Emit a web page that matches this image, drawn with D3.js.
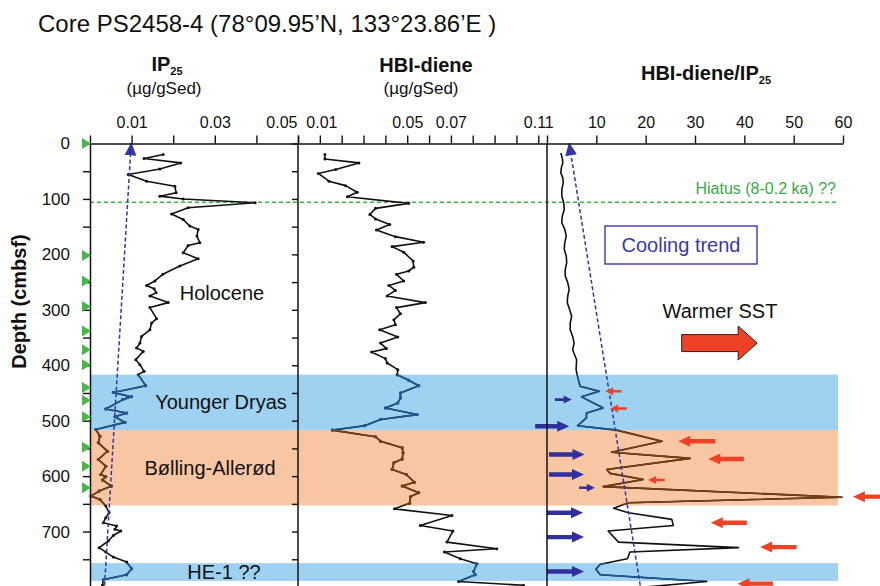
<!DOCTYPE html>
<html>
<head>
<meta charset="utf-8">
<script src="https://cdn.jsdelivr.net/npm/d3@7"></script>
<style>
  body { margin: 0; background: #fff; }
  text { font-family: "Liberation Sans", Arial, sans-serif; }
</style>
</head>
<body>
<div id="graph"></div>
<script>
// IP25 (ug/gSed) vs depth (cmbsf)
const ipDepth = [20, 27, 35, 46, 56, 68, 77, 89, 95, 100, 107, 116, 127, 137, 149, 155, 167, 179, 184, 197,
  208, 221, 236, 248, 256, 262, 269, 275, 287, 296, 316, 324, 336, 348, 360, 369, 375, 390, 399, 411,
  417, 437, 449, 457, 462, 479, 486, 493, 503, 516, 528, 540, 555, 570, 582, 597, 601, 607, 618, 627,
  636, 642, 654, 666, 675, 684, 690, 696, 699, 707, 717, 729, 737, 746, 755, 767, 778, 787, 797];
const ipValue = [.0176, .0130, .0218, .0168, .0092, .0136, .0204, .0207, .0168, .0224, .0397, .0236, .0196, .0224, .0240, .0260, .0257, .0264, .0236, .0224,
  .0260, .0216, .0175, .0156, .0136, .0154, .0159, .0144, .0188, .0144, .0160, .0148, .0144, .0124, .0120, .0112, .0128, .0110, .0120, .0130,
  .0116, .0134, .0056, .0100, .0079, .0038, .0088, .0060, .0084, .0014, .0024, .0020, .0042, .0020, .0038, .0026, .0038, .0030, .0052, .0022,
  .0002, .0024, .0038, .0046, .0038, .0032, .0064, .0060, .0074, .0056, .0044, .0022, .0038, .0056, .0088, .0100, .0088, .0032, .0030];

// HBI-diene (ug/gSed) vs depth
const dieneDepth = [20, 28, 35, 47, 54, 68, 76, 88, 96, 108, 117, 128, 136, 146, 156, 168, 178, 186, 196, 212,
  223, 230, 236, 248, 256, 265, 275, 287, 296, 307, 318, 327, 336, 349, 360, 370, 376, 388, 396, 408,
  417, 427, 437, 450, 459, 468, 477, 489, 498, 509, 517, 529, 537, 549, 558, 569, 576, 588, 597, 611,
  618, 630, 637, 649, 659, 671, 689, 699, 719, 731, 737, 749, 758, 772, 778, 790, 797];
const dieneValue = [.0123, .0123, .0279, .0172, .0093, .0142, .0218, .0271, .0226, .0507, .0355, .0329, .0355, .0420, .0359, .0446, .0575, .0431, .0484, .0527,
  .0530, .0507, .0451, .0484, .0416, .0446, .0408, .0583, .0451, .0469, .0439, .0446, .0374, .0457, .0378, .0405, .0337, .0400, .0408, .0457,
  .0454, .0507, .0553, .0469, .0469, .0457, .0400, .0545, .0378, .0305, .0157, .0355, .0378, .0477, .0481, .0477, .0439, .0431, .0496, .0533,
  .0477, .0553, .0515, .0511, .0442, .0705, .0560, .0709, .0682, .0910, .0670, .0743, .0819, .0804, .0811, .0735, .1032];

// HBI-diene/IP25 ratio vs depth
const ratioDepth = [17, 26, 35, 44, 53, 62, 71, 83, 95, 107, 119, 131, 143, 155, 167, 179, 191, 203, 215, 227,
  239, 251, 263, 275, 287, 300, 312, 324, 336, 348, 360, 372, 390, 408, 417, 438, 447, 457, 477, 486,
  495, 509, 517, 537, 557, 568, 588, 595, 606, 619, 638, 648, 658, 666, 678, 689, 699, 719, 729, 737,
  749, 759, 768, 778, 790, 800];
const ratioValue = [2.8, 3.1, 3.2, 2.9, 2.8, 3.2, 3.3, 3.0, 3.0, 3.4, 3.5, 3.1, 3.0, 3.6, 3.9, 3.6, 3.5, 3.9, 4.0, 3.7,
  3.7, 4.2, 4.5, 4.2, 4.1, 4.6, 5.0, 4.7, 4.7, 5.2, 5.5, 5.2, 6.0, 5.9, 6.1, 6.7, 10.6, 7.0, 11.4, 8.0,
  8.0, 6.2, 14.1, 23.3, 13.1, 29.0, 12.1, 12.8, 19.5, 11.4, 59.8, 16.5, 13.5, 16.5, 25.3, 25.6, 12.4, 14.5, 38.8, 16.8,
  16.3, 10.8, 9.9, 10.8, 32.4, 20.0];

// climate intervals (depth, cmbsf)
const bandNames = ["Younger Dryas", "Bølling-Allerød", "HE-1 ??"];
const bandTop = [417, 517, 757];
const bandBottom = [517, 653, 789];
const hiatusDepth = 106;

// AMS 14C dates (green triangles)
const dateDepths = [0, 202, 248, 294, 338, 372, 399, 440, 463, 493, 548, 582, 621];

// cooling trend lines (bottom -> top)
const ipTrendDepth = [797, 0];
const ipTrendValue = [0.0035, 0.0099];
const ratioTrendDepth = [797, 0];
const ratioTrendValue = [18.9, 4.5];

// arrows in ratio panel (ratio units)
const blueArrowDepth = [462, 510, 561, 597, 621, 666, 710, 772];
const blueArrowFrom = [1.6, -2.4, 0.4, 0.4, 6.5, 0, 0, 0];
const blueArrowTo = [5.0, 4.5, 7.6, 7.5, 9.7, 7.3, 7.5, 7.5];
const blueArrowKind = ["s", "b", "b", "b", "s", "b", "b", "b"];
const redArrowDepth = [447, 478, 537, 569, 607, 637, 684, 728, 794];
const redArrowFrom = [15.1, 16.2, 34.1, 39.9, 23.9, 69.5, 40.5, 50.6, 45.8];
const redArrowTo = [11.8, 12.8, 26.6, 32.7, 20.5, 62, 33.2, 43.2, 38.6];
const redArrowKind = ["s", "s", "b", "b", "s", "b", "b", "b", "b"];

// axis ticks
const ipTicks = [0, 0.01, 0.02, 0.03, 0.04, 0.05];
const ipTickLabels = ["0.01", "0.03", "0.05"];
const dieneTicks = d3.range(0, 12).map(i => i / 100);
const dieneTickLabels = ["0.01", "0.05", "0.07", "0.11"];
const ratioTicks = [0, 10, 20, 30, 40, 50, 60];
const ratioTickLabels = ["10", "20", "30", "40", "50", "60"];
const depthTicks = d3.range(0, 751, 50);

const width = 880;
const height = 586;

const svg = d3.select("#graph")
  .append("svg")
  .attr("width", width)
  .attr("height", height)
  .attr("viewBox", [0, 0, width, height]);

const y = d3.scaleLinear().domain([0, 800]).range([143.5, 587]);
const x1 = d3.scaleLinear().domain([0, 0.05]).range([90, 298]);
const x2 = d3.scaleLinear().domain([0, 0.114]).range([298, 547]);
const x3 = d3.scaleLinear().domain([0, 60]).range([547, 843]);
const bandRight = 838;

const BLUE_BAND = "#9fd2f0";
const ORANGE_BAND = "#f8c6a2";
const lineColors = ["#1d5b98", "#7a3e12", "#1d5b98"];

const zip = (ds, vs) => ds.map((d, i) => ({ d: d, v: vs[i] }));

// defs: clips for band-coloured lines, arrow marker
const defs = svg.append("defs");
bandTop.forEach((t, i) => {
  defs.append("clipPath").attr("id", "band" + i)
    .append("rect")
    .attr("x", 0).attr("width", width)
    .attr("y", y(t)).attr("height", y(bandBottom[i]) - y(t));
});
defs.append("marker")
  .attr("id", "trendHead")
  .attr("markerUnits", "userSpaceOnUse")
  .attr("viewBox", "0 -6 12 12")
  .attr("refX", 11).attr("refY", 0)
  .attr("markerWidth", 13).attr("markerHeight", 13)
  .attr("orient", "auto")
  .append("path").attr("d", "M0,-5.5L12,0L0,5.5Z").attr("fill", "#3434a6");

// background bands
svg.append("g").selectAll("rect")
  .data(bandTop)
  .join("rect")
  .attr("x", x1(0))
  .attr("width", bandRight - x1(0))
  .attr("y", d => y(d))
  .attr("height", (d, i) => y(bandBottom[i]) - y(d))
  .attr("fill", (d, i) => i === 1 ? ORANGE_BAND : BLUE_BAND);

// hiatus line
svg.append("line")
  .attr("x1", x1(0)).attr("x2", bandRight)
  .attr("y1", y(hiatusDepth)).attr("y2", y(hiatusDepth))
  .attr("stroke", "#3db54a").attr("stroke-width", 1.6)
  .attr("stroke-dasharray", "4,3");
svg.append("text")
  .attr("x", 836).attr("y", y(hiatusDepth) - 8)
  .attr("text-anchor", "end")
  .attr("font-size", "16px")
  .attr("fill", "#3aa846")
  .text("Hiatus (8-0.2 ka) ??");

function drawSeries(data, xs, dots) {
  const line = d3.line().x(p => xs(p.v)).y(p => y(p.d));
  const draw = (g, color) => {
    g.append("path").datum(data)
      .attr("d", line)
      .attr("fill", "none")
      .attr("stroke", color)
      .attr("stroke-width", 1.6)
      .attr("stroke-linejoin", "round");
    if (dots) {
      g.selectAll("circle").data(data).join("circle")
        .attr("cx", p => xs(p.v)).attr("cy", p => y(p.d))
        .attr("r", 1.5).attr("fill", color);
    }
  };
  draw(svg.append("g"), "#111");
  lineColors.forEach((c, i) => draw(svg.append("g").attr("clip-path", `url(#band${i})`), c));
}

drawSeries(zip(ipDepth, ipValue), x1, true);
drawSeries(zip(dieneDepth, dieneValue), x2, true);
drawSeries(zip(ratioDepth, ratioValue), x3, false);

// trend lines
function drawTrend(ds, vs, xs) {
  svg.append("path").datum(zip(ds, vs))
    .attr("d", d3.line().x(p => xs(p.v)).y(p => y(p.d)))
    .attr("fill", "none")
    .attr("stroke", "#3434a6")
    .attr("stroke-width", 1.5)
    .attr("stroke-dasharray", "4,2.5")
    .attr("marker-end", "url(#trendHead)");
}
drawTrend(ipTrendDepth, ipTrendValue, x1);
drawTrend(ratioTrendDepth, ratioTrendValue, x3);

// arrows
function arrowPath(xa, xb, yc, kind) {
  const shaft = kind === "b" ? 2.2 : 1.3;
  const head = kind === "b" ? 5.5 : 4;
  const len = kind === "b" ? 12 : 8;
  const dir = xb > xa ? 1 : -1;
  const xh = xb - dir * len;
  return `M${xa},${yc - shaft}L${xh},${yc - shaft}L${xh},${yc - head}L${xb},${yc}` +
    `L${xh},${yc + head}L${xh},${yc + shaft}L${xa},${yc + shaft}Z`;
}
svg.append("g").selectAll("path")
  .data(blueArrowDepth)
  .join("path")
  .attr("d", (d, i) => arrowPath(x3(blueArrowFrom[i]), x3(blueArrowTo[i]), y(d), blueArrowKind[i]))
  .attr("fill", "#2f2f9e");
svg.append("g").selectAll("path")
  .data(redArrowDepth)
  .join("path")
  .attr("d", (d, i) => arrowPath(x3(redArrowFrom[i]), x3(redArrowTo[i]), y(d), redArrowKind[i]))
  .attr("fill", "#ee4226");

// panel frames
function vline(x, color) {
  svg.append("line")
    .attr("x1", x).attr("x2", x)
    .attr("y1", y(0)).attr("y2", height + 5)
    .attr("stroke", color || "#111").attr("stroke-width", 1.5);
}
vline(x2(0));
vline(x3(0));

// inner ticks at x = 298
svg.append("g")
  .attr("transform", `translate(${x2(0)},0)`)
  .call(d3.axisLeft(y).tickValues(depthTicks).tickSize(6).tickFormat("").tickSizeOuter(0))
  .call(g => g.select(".domain").remove())
  .call(g => g.selectAll("line").attr("stroke", "#111").attr("stroke-width", 1.4));

// depth axis
svg.append("g")
  .attr("transform", `translate(${x1(0)},0)`)
  .call(d3.axisLeft(y).tickValues(depthTicks).tickSize(7).tickPadding(13).tickSizeOuter(0)
    .tickFormat(d => d % 100 === 0 ? d : ""))
  .call(g => g.select(".domain").attr("stroke", "#111").attr("stroke-width", 1.5))
  .call(g => g.selectAll("line").attr("stroke", "#111").attr("stroke-width", 1.4))
  .call(g => g.selectAll("text").attr("font-size", "17px").attr("fill", "#111")
    .attr("font-family", "'Liberation Sans', Arial, sans-serif"));

// top axes
function topAxis(xs, ticks, labels) {
  return svg.append("g")
    .attr("transform", `translate(0,${y(0)})`)
    .call(d3.axisTop(xs).tickValues(ticks).tickSize(8).tickPadding(8).tickSizeOuter(0)
      .tickFormat(d => {
        const s = String(+d.toFixed(2));
        return labels.includes(s) ? s : "";
      }))
    .call(g => g.select(".domain").attr("stroke", "#111").attr("stroke-width", 1.5))
    .call(g => g.selectAll("line").attr("stroke", "#111").attr("stroke-width", 1.4))
    .call(g => g.selectAll("text").attr("font-size", "16px").attr("fill", "#111")
      .attr("font-family", "'Liberation Sans', Arial, sans-serif"));
}
// the two labels at the panel seam sit side by side, as in the source figure
topAxis(x1, ipTicks, ipTickLabels)
  .selectAll(".tick text").filter(d => d === 0.05)
  .attr("text-anchor", "end").attr("dx", "-1px");
topAxis(x2, dieneTicks, dieneTickLabels)
  .selectAll(".tick text").filter(d => d === 0.01)
  .attr("text-anchor", "start").attr("dx", "-14px");
topAxis(x3, ratioTicks, ratioTickLabels);

// green date triangles
svg.append("g").selectAll("path")
  .data(dateDepths)
  .join("path")
  .attr("d", d => `M${x1(0) - 8},${y(d) - 5.5}L${x1(0) + 1},${y(d)}L${x1(0) - 8},${y(d) + 5.5}Z`)
  .attr("fill", "#46b848");

// titles
svg.append("text")
  .attr("x", 38).attr("y", 32)
  .attr("font-size", "24px").attr("fill", "#111")
  .text("Core PS2458-4 (78°09.95’N, 133°23.86’E )");

function header(x, yy, main, sub) {
  const t = svg.append("text")
    .attr("x", x).attr("y", yy)
    .attr("text-anchor", "middle")
    .attr("font-size", "20px").attr("font-weight", "bold").attr("fill", "#111");
  t.append("tspan").text(main);
  if (sub) t.append("tspan").attr("font-size", "11px").attr("dy", 4).text(sub);
}
header(167, 71, "IP", "25");
header(426, 72, "HBI-diene");
header(706, 80, "HBI-diene/IP", "25");

svg.append("g").selectAll("text")
  .data([164, 421])
  .join("text")
  .attr("x", d => d).attr("y", 94)
  .attr("text-anchor", "middle")
  .attr("font-size", "17px").attr("fill", "#111")
  .text("(µg/gSed)");

svg.append("text")
  .attr("transform", `translate(26,${(y(160) + y(410)) / 2}) rotate(-90)`)
  .attr("text-anchor", "middle")
  .attr("font-size", "20px").attr("font-weight", "bold").attr("fill", "#111")
  .text("Depth (cmbsf)");

// interval labels
svg.append("text")
  .attr("x", 222).attr("y", y(270) + 7)
  .attr("text-anchor", "middle").attr("font-size", "20px").attr("fill", "#111")
  .text("Holocene");
svg.append("g").selectAll("text")
  .data(bandNames)
  .join("text")
  .attr("x", (d, i) => [221, 210, 224][i])
  .attr("y", (d, i) => y((bandTop[i] + bandBottom[i]) / 2) + 7)
  .attr("text-anchor", "middle").attr("font-size", "20px").attr("fill", "#111")
  .text(d => d);

// cooling trend box
svg.append("rect")
  .attr("x", 605).attr("y", 226)
  .attr("width", 152).attr("height", 38)
  .attr("fill", "none").attr("stroke", "#3a3aa8").attr("stroke-width", 1.4);
svg.append("text")
  .attr("x", 681).attr("y", 252)
  .attr("text-anchor", "middle").attr("font-size", "20px").attr("fill", "#3a3aa8")
  .text("Cooling trend");

// warmer SST
svg.append("text")
  .attr("x", 720).attr("y", 318)
  .attr("text-anchor", "middle").attr("font-size", "20px").attr("fill", "#111")
  .text("Warmer SST");
const warm = { depth: 360, from: 27.3, to: 42.6 };
const wy = y(warm.depth), wx0 = x3(warm.from), wx1 = x3(warm.to);
svg.append("path")
  .attr("d", `M${wx0},${wy - 8.5}L${wx1 - 19},${wy - 8.5}L${wx1 - 19},${wy - 17}L${wx1},${wy}` +
    `L${wx1 - 19},${wy + 17}L${wx1 - 19},${wy + 8.5}L${wx0},${wy + 8.5}Z`)
  .attr("fill", "#ee4226").attr("stroke", "#3a1a10").attr("stroke-width", 1);
</script>
</body>
</html>
